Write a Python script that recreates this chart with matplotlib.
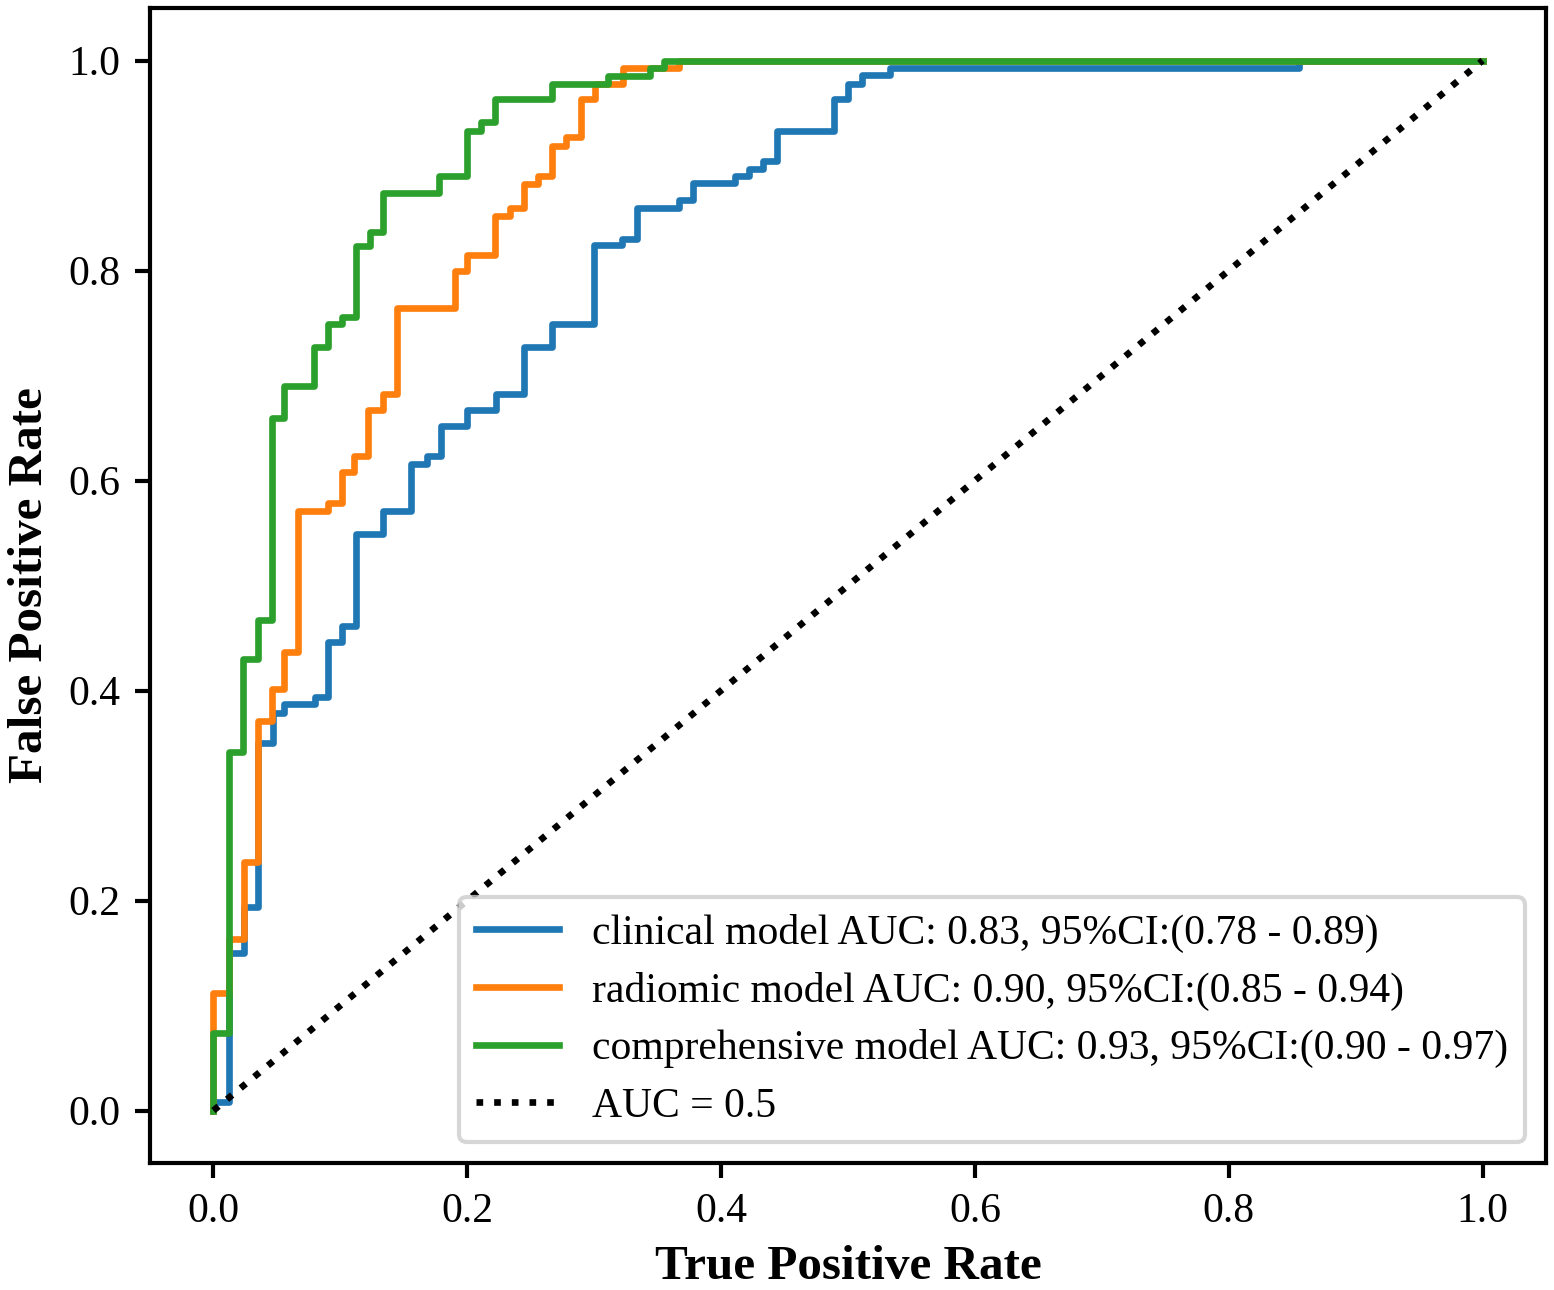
import numpy as np
import matplotlib
matplotlib.use("Agg")
import matplotlib.pyplot as plt

plt.rcParams['font.family'] = ['Liberation Serif', 'DejaVu Serif']

# ROC corner points (curve rises to tpr[i] at fpr[i], then runs flat)
clin_fpr = [0.0, 0.0, 0.012, 0.024, 0.035, 0.047, 0.056, 0.080, 0.090, 0.101, 0.112,
            0.134, 0.156, 0.168, 0.179, 0.200, 0.223, 0.245, 0.267, 0.300, 0.322,
            0.334, 0.367, 0.378, 0.411, 0.422, 0.433, 0.444, 0.489, 0.500, 0.511,
            0.533, 0.855, 1.0]
clin_tpr = [0.0, 0.008, 0.150, 0.194, 0.350, 0.379, 0.387, 0.394, 0.446, 0.461, 0.549,
            0.571, 0.616, 0.623, 0.652, 0.667, 0.682, 0.727, 0.749, 0.824, 0.830,
            0.860, 0.867, 0.883, 0.890, 0.897, 0.904, 0.933, 0.963, 0.978, 0.986,
            0.993, 1.0, 1.0]

rad_fpr = [0.0, 0.0, 0.012, 0.024, 0.035, 0.046, 0.056, 0.067, 0.090, 0.101, 0.111,
           0.122, 0.134, 0.145, 0.190, 0.200, 0.222, 0.234, 0.245, 0.256, 0.267,
           0.278, 0.290, 0.301, 0.323, 0.367, 1.0]
rad_tpr = [0.0, 0.112, 0.163, 0.237, 0.371, 0.401, 0.437, 0.571, 0.579, 0.608, 0.623,
           0.667, 0.682, 0.764, 0.800, 0.815, 0.852, 0.860, 0.882, 0.890, 0.919,
           0.927, 0.963, 0.978, 0.993, 1.0, 1.0]

comp_fpr = [0.0, 0.0, 0.012, 0.023, 0.035, 0.046, 0.056, 0.079, 0.090, 0.101, 0.112,
            0.123, 0.134, 0.178, 0.200, 0.211, 0.222, 0.267, 0.311, 0.344, 0.355, 1.0]
comp_tpr = [0.0, 0.074, 0.341, 0.430, 0.467, 0.660, 0.690, 0.727, 0.749, 0.756, 0.823,
            0.837, 0.874, 0.890, 0.933, 0.941, 0.963, 0.978, 0.985, 0.993, 1.0, 1.0]

labels = ['clinical model AUC: 0.83, 95%CI:(0.78 - 0.89)',
          'radiomic model AUC: 0.90, 95%CI:(0.85 - 0.94)',
          'comprehensive model AUC: 0.93, 95%CI:(0.90 - 0.97)']

fig = plt.figure(figsize=(5.18, 4.30), dpi=300)
ax = fig.add_axes([0.0965, 0.0984, 0.8984, 0.8954])

ax.step(clin_fpr, clin_tpr, where='post', color='#1f77b4', lw=1.6, label=labels[0])
ax.step(rad_fpr, rad_tpr, where='post', color='#ff7f0e', lw=1.6, label=labels[1])
ax.step(comp_fpr, comp_tpr, where='post', color='#2ca02c', lw=1.6, label=labels[2])
ax.plot([0, 1], [0, 1], color='black', linestyle=':', lw=1.6, label='AUC = 0.5')

ax.set_xlim(-0.05, 1.05)
ax.set_ylim(-0.05, 1.05)
ax.set_xticks(np.arange(0, 1.01, 0.2))
ax.set_yticks(np.arange(0, 1.01, 0.2))
ax.tick_params(labelsize=10, width=1.0, length=3.5)
for s in ax.spines.values():
    s.set_linewidth(1.0)

ax.set_xlabel('True Positive Rate', fontsize=11.8, fontweight='bold', labelpad=3.5)
ax.set_ylabel('False Positive Rate', fontsize=11.8, fontweight='bold')
ax.legend(loc='lower right', fontsize=10, labelspacing=0.45)

fig.savefig('out.png', dpi=300)
